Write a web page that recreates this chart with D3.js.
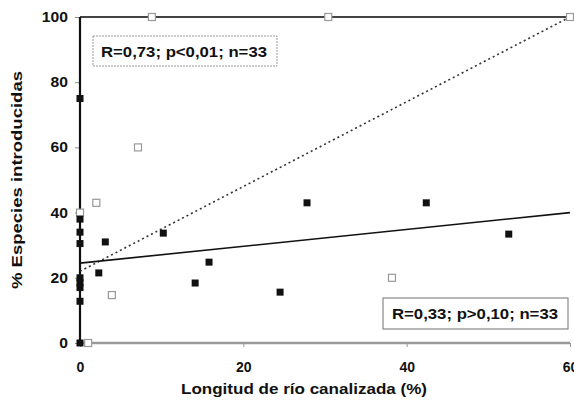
<!DOCTYPE html>
<html lang="es">
<head>
<meta charset="UTF-8">
<title>Especies introducidas vs. canalización</title>
<script src="https://d3js.org/d3.v7.min.js"></script>
<style>
  body { margin: 0; background: #fff; font-family: Arial, "Liberation Sans", sans-serif; }
  svg text { font-weight: bold; fill: #111; }
</style>
</head>
<body>
<div id="chart"></div>
<script>
// filled squares (solid regression)
const filledX = [0, 0, 0, 0, 0, 0, 0, 0, 0, 2.3, 3.1, 10.2, 14.1, 15.8, 24.5, 27.8, 42.4, 52.5];
const filledY = [75, 38, 34, 30.5, 20, 18.5, 17, 12.8, 0, 21.5, 31, 33.7, 18.4, 24.8, 15.6, 43, 43, 33.4];
// open squares (dotted regression)
const openX = [0, 1, 2, 3.9, 7.1, 8.8, 30.4, 38.2, 60];
const openY = [40, 0, 43, 14.7, 60, 100, 100, 20, 100];
// regression line end points
const solidLine = [[0, 24.5], [60, 40]];
const dottedLine = [[0, 22], [60, 100]];
const xTicks = [0, 20, 40, 60];
const yTicks = [0, 20, 40, 60, 80, 100];
const statsOpen = "R=0,73; p<0,01; n=33";
const statsFilled = "R=0,33; p>0,10; n=33";

const width = 574, height = 403;
const svg = d3.select("#chart").append("svg")
  .attr("width", width).attr("height", height);

const x = d3.scaleLinear().domain([0, 60]).range([80, 570]);
const y = d3.scaleLinear().domain([0, 100]).range([343, 17]);

// frame lines
svg.append("line").attr("x1", x(0)).attr("x2", x(60)).attr("y1", y(100)).attr("y2", y(100))
  .attr("stroke", "#444").attr("stroke-width", 2.2);
svg.append("line").attr("x1", x(0)).attr("x2", x(60)).attr("y1", y(0)).attr("y2", y(0))
  .attr("stroke", "#999").attr("stroke-width", 2.5);

// y axis
const yAxis = svg.append("g").attr("transform", `translate(${x(0)},0)`)
  .call(d3.axisLeft(y).tickValues(yTicks).tickSize(5).tickPadding(5));
yAxis.select(".domain").remove();
yAxis.selectAll("line").attr("stroke", "#888");
yAxis.selectAll("text").style("font-size", "14px").style("font-family", "Arial")
  .attr("transform", "scale(1.12,1)").attr("x", -12 / 1.12);
svg.append("line").attr("x1", x(0)).attr("x2", x(0)).attr("y1", y(100)).attr("y2", y(0))
  .attr("stroke", "#111").attr("stroke-width", 2.2);

// x axis
const xAxis = svg.append("g").attr("transform", `translate(0,${y(0)})`)
  .call(d3.axisBottom(x).tickValues(xTicks).tickSize(4).tickPadding(15));
xAxis.select(".domain").remove();
xAxis.selectAll("line").attr("stroke", "#999");
xAxis.selectAll("text").style("font-size", "14px").style("font-family", "Arial");

// axis titles
svg.append("text").attr("x", 304).attr("y", 394).attr("text-anchor", "middle")
  .style("font-size", "15px").attr("textLength", 246).attr("lengthAdjust", "spacingAndGlyphs")
  .text("Longitud de río canalizada (%)");
svg.append("text").attr("transform", "translate(22,180) rotate(-90)").attr("text-anchor", "middle")
  .style("font-size", "15px").attr("textLength", 218).attr("lengthAdjust", "spacingAndGlyphs")
  .text("% Especies introducidas");

// regression lines
const line = d3.line().x(d => x(d[0])).y(d => y(d[1]));
svg.append("path").attr("d", line(dottedLine)).attr("fill", "none")
  .attr("stroke", "#333").attr("stroke-width", 1.6).attr("stroke-dasharray", "2,3");
svg.append("path").attr("d", line(solidLine)).attr("fill", "none")
  .attr("stroke", "#111").attr("stroke-width", 1.6);

// open squares
const s = 7;
svg.append("g").selectAll("rect").data(d3.zip(openX, openY)).join("rect")
  .attr("x", d => x(d[0]) - s / 2).attr("y", d => y(d[1]) - s / 2)
  .attr("width", s).attr("height", s)
  .attr("fill", "#fff").attr("stroke", "#999").attr("stroke-width", 1.2);

// filled squares
svg.append("g").selectAll("rect").data(d3.zip(filledX, filledY)).join("rect")
  .attr("x", d => x(d[0]) - s / 2).attr("y", d => y(d[1]) - s / 2)
  .attr("width", s).attr("height", s)
  .attr("fill", "#111");

// stats boxes
svg.append("rect").attr("x", 93).attr("y", 36).attr("width", 184).attr("height", 30)
  .attr("fill", "#fff").attr("stroke", "#999").attr("stroke-dasharray", "2,1");
svg.append("text").attr("x", 184).attr("y", 57).attr("text-anchor", "middle")
  .style("font-size", "15px").attr("textLength", 166).attr("lengthAdjust", "spacingAndGlyphs")
  .text(statsOpen);
svg.append("rect").attr("x", 383).attr("y", 298).attr("width", 185).attr("height", 31)
  .attr("fill", "#fff").attr("stroke", "#888").attr("stroke-width", 1.2);
svg.append("text").attr("x", 475).attr("y", 319).attr("text-anchor", "middle")
  .style("font-size", "15px").attr("textLength", 166).attr("lengthAdjust", "spacingAndGlyphs")
  .text(statsFilled);
</script>
</body>
</html>
